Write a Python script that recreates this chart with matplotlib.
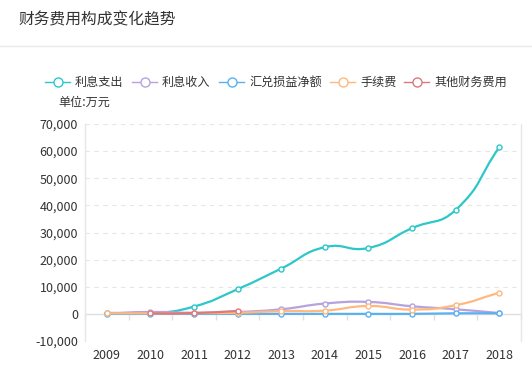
import numpy as np
import matplotlib
matplotlib.use("Agg")
import matplotlib.pyplot as plt
from matplotlib.path import Path
from matplotlib.patches import PathPatch
from matplotlib.lines import Line2D
from matplotlib.ticker import FuncFormatter

plt.rcParams['font.family'] = ['Noto Sans CJK SC', 'DejaVu Sans']

# 数据 (单位: 万元)
years = ["2009", "2010", "2011", "2012", "2013", "2014", "2015", "2016", "2017", "2018"]
nan = np.nan
interest_exp = [400, 200, 2700, 9100, 16700, 24600, 24300, 31600, 38300, 61400]
interest_inc = [200, 700, 400, 700, 1700, 3800, 4400, 2800, 1700, 300]
fx_net = [0, 0, 0, 0, 0, 0, 0, 0, 200, 200]
fees = [200, 200, 300, 400, 1000, 1200, 2900, 1600, 3200, 7800]
other = [nan, 200, 300, 1100, nan, nan, nan, nan, nan, nan]

series_names = ["利息支出", "利息收入", "汇兑损益净额", "手续费", "其他财务费用"]
series_data = [interest_exp, interest_inc, fx_net, fees, other]
colors = ["#2ec7c9", "#b6a2de", "#5ab1ef", "#ffb980", "#d87a80"]

W, H = 532, 369
fig = plt.figure(figsize=(W / 100, H / 100), dpi=100)

# Titel + Trennlinie
fig.text(18 / W, 1 - 20 / H, "财务费用构成变化趋势", fontsize=11.3, color="#333333", va="center", ha="left")
fig.add_artist(Line2D([0, 1], [1 - 46 / H, 1 - 46 / H], transform=fig.transFigure, color="#e8e8e8", lw=1))

# Legende (manuell)
leg_x = [45, 132, 219, 330, 404]
leg_y = 1 - 82 / H
for x0, name, c in zip(leg_x, series_names, colors):
    fig.add_artist(Line2D([x0 / W, (x0 + 25) / W], [leg_y, leg_y], transform=fig.transFigure, color=c, lw=1))
    fig.add_artist(Line2D([(x0 + 12.5) / W], [leg_y], transform=fig.transFigure, marker="o", ms=6.5,
                          mfc="white", mec=c, mew=1, lw=0))
    fig.text((x0 + 30) / W, leg_y, name, fontsize=8.7, color="#333333", va="center", ha="left")
fig.text(58 / W, 1 - 102 / H, "单位:万元", fontsize=8.7, color="#333333", va="center", ha="left")

# Achsen
ax = fig.add_axes([85 / W, 1 - 341 / H, (521 - 85) / W, (341 - 124) / H])
x = np.arange(len(years))
ax.set_xlim(-0.5, len(years) - 0.5)
ax.set_ylim(-10000, 70000)
ax.set_yticks(np.arange(-10000, 70001, 10000))
ax.yaxis.set_major_formatter(FuncFormatter(lambda v, p: f"{int(v):,}"))
ax.set_xticks(x)
ax.set_xticklabels(years)
ax.tick_params(axis="both", length=0, labelsize=9, colors="#333333")
ax.tick_params(axis="y", pad=5)
ax.tick_params(axis="x", pad=6)
for s in ["top", "bottom"]:
    ax.spines[s].set_visible(False)
for s in ["left", "right"]:
    ax.spines[s].set_color("#e6e6e6")
    ax.spines[s].set_linewidth(1)

for yv in np.arange(-10000, 70001, 10000):
    if yv == 0:
        continue
    ax.axhline(yv, color="#e6e6e6", lw=0.8, dashes=(4, 4), zorder=0)
ax.axhline(0, color="#e0e0e0", lw=1, zorder=1)

# Tick-Striche an Kategoriegrenzen auf der Nulllinie
sec = ax.secondary_xaxis(10000 / 80000)
sec.set_xticks(np.arange(-0.5, len(years), 1.0))
sec.set_xticklabels([])
sec.tick_params(length=4, color="#e0e0e0", width=1, direction="out")
sec.spines["bottom"].set_visible(False)


def smooth_curve(xs, ys, smooth=0.5):
    pts = ax.transData.transform(np.column_stack([xs, ys]))
    n = len(pts)
    cin, cout = [], []
    for i in range(n):
        p = pts[i]
        prev = pts[i - 1] if i > 0 else p
        nxt = pts[i + 1] if i < n - 1 else p
        v = nxt - prev
        d0 = np.hypot(*(p - prev))
        d1 = np.hypot(*(nxt - p))
        s = d0 + d1
        if s > 0:
            d0, d1 = d0 / s, d1 / s
        cin.append(p - v * smooth * d0)
        cout.append(p + v * smooth * d1)
    verts = [pts[0]]
    codes = [Path.MOVETO]
    for i in range(n - 1):
        verts += [cout[i], cin[i + 1], pts[i + 1]]
        codes += [Path.CURVE4] * 3
    verts = ax.transData.inverted().transform(np.array(verts))
    return Path(verts, codes)


for k, (vals, c) in enumerate(zip(series_data, colors)):
    vals = np.array(vals, dtype=float)
    ok = ~np.isnan(vals)
    # zusammenhängende Abschnitte
    idx = np.where(ok)[0]
    runs = np.split(idx, np.where(np.diff(idx) != 1)[0] + 1)
    for r in runs:
        if len(r) > 1:
            ax.add_patch(PathPatch(smooth_curve(x[r], vals[r]), fill=False, edgecolor=c, lw=1.6,
                                   zorder=3 + k, capstyle="round", joinstyle="round"))
    ax.plot(x[ok], vals[ok], ls="none", marker="o", ms=3.6, mfc="white", mec=c, mew=1, zorder=3.5 + k)

fig.savefig("out.png", dpi=100)
